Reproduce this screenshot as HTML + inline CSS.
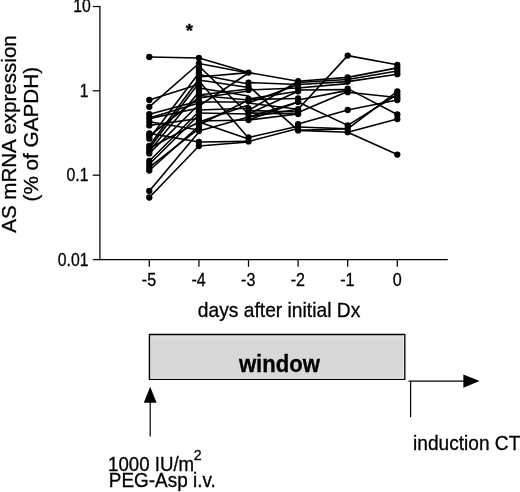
<!DOCTYPE html>
<html><head><meta charset="utf-8"><title>AS mRNA expression</title>
<style>
html,body{margin:0;padding:0;background:#fff}
svg{display:block}
text{font-family:"Liberation Sans",Arial,Helvetica,sans-serif;fill:#000;stroke:#000;stroke-width:0.3px}
</style></head><body>
<svg width="520" height="492" viewBox="0 0 520 492">
<defs><linearGradient id="g" x1="0" y1="0" x2="0" y2="1"><stop offset="0" stop-color="#e0e0e0"/><stop offset="0.15" stop-color="#d7d7d7"/><stop offset="1" stop-color="#d9d9d9"/></linearGradient></defs>
<rect width="520" height="492" fill="#fff"/>
<g stroke="#000" stroke-width="1.6" stroke-linecap="round"><line x1="149.3" y1="57" x2="198.9" y2="58"/><line x1="149.3" y1="100" x2="198.9" y2="84.3"/><line x1="149.3" y1="106.8" x2="198.9" y2="63.5"/><line x1="149.3" y1="114.2" x2="198.9" y2="101"/><line x1="149.3" y1="118" x2="198.9" y2="103"/><line x1="149.3" y1="118.6" x2="198.9" y2="108"/><line x1="149.3" y1="121.7" x2="198.9" y2="130"/><line x1="149.3" y1="125.4" x2="198.9" y2="118.5"/><line x1="149.3" y1="133.4" x2="198.9" y2="142"/><line x1="149.3" y1="136" x2="198.9" y2="97.5"/><line x1="149.3" y1="138.7" x2="198.9" y2="73"/><line x1="149.3" y1="145.8" x2="198.9" y2="79"/><line x1="149.3" y1="148.3" x2="198.9" y2="83"/><line x1="149.3" y1="150.9" x2="198.9" y2="92"/><line x1="149.3" y1="153.4" x2="198.9" y2="104.5"/><line x1="149.3" y1="148.3" x2="198.9" y2="122"/><line x1="149.3" y1="161" x2="198.9" y2="111.5"/><line x1="149.3" y1="164.2" x2="198.9" y2="115"/><line x1="149.3" y1="167.4" x2="198.9" y2="128.5"/><line x1="149.3" y1="170.5" x2="198.9" y2="126"/><line x1="149.3" y1="191" x2="198.9" y2="132"/><line x1="149.3" y1="197.5" x2="198.9" y2="146"/><line x1="198.9" y1="58" x2="248.5" y2="72.6"/><line x1="198.9" y1="63.5" x2="248.5" y2="73"/><line x1="198.9" y1="66" x2="248.5" y2="114"/><line x1="198.9" y1="77" x2="248.5" y2="72.6"/><line x1="198.9" y1="74.5" x2="248.5" y2="84"/><line x1="198.9" y1="80" x2="248.5" y2="87.5"/><line x1="198.9" y1="106" x2="248.5" y2="73"/><line x1="198.9" y1="95" x2="248.5" y2="89"/><line x1="198.9" y1="98" x2="248.5" y2="91"/><line x1="198.9" y1="81" x2="248.5" y2="138"/><line x1="198.9" y1="95.5" x2="248.5" y2="100"/><line x1="198.9" y1="122" x2="248.5" y2="139"/><line x1="198.9" y1="142" x2="248.5" y2="141.4"/><line x1="198.9" y1="146" x2="248.5" y2="142"/><line x1="198.9" y1="125" x2="248.5" y2="100"/><line x1="198.9" y1="122" x2="248.5" y2="105"/><line x1="198.9" y1="121" x2="248.5" y2="120"/><line x1="198.9" y1="110" x2="248.5" y2="108.3"/><line x1="198.9" y1="113" x2="248.5" y2="114"/><line x1="198.9" y1="131" x2="248.5" y2="117"/><line x1="198.9" y1="88" x2="248.5" y2="96"/><line x1="198.9" y1="102" x2="248.5" y2="102"/><line x1="248.5" y1="72.6" x2="298.1" y2="81.2"/><line x1="248.5" y1="82.6" x2="298.1" y2="84.5"/><line x1="248.5" y1="89.9" x2="298.1" y2="88"/><line x1="248.5" y1="86" x2="298.1" y2="130.4"/><line x1="248.5" y1="110.5" x2="298.1" y2="81.2"/><line x1="248.5" y1="103" x2="298.1" y2="84.5"/><line x1="248.5" y1="99" x2="298.1" y2="91.3"/><line x1="248.5" y1="114" x2="298.1" y2="91.3"/><line x1="248.5" y1="117" x2="298.1" y2="102"/><line x1="248.5" y1="120" x2="298.1" y2="102"/><line x1="248.5" y1="117" x2="298.1" y2="109.2"/><line x1="248.5" y1="110.5" x2="298.1" y2="112"/><line x1="248.5" y1="99.5" x2="298.1" y2="98.5"/><line x1="248.5" y1="137.5" x2="298.1" y2="126.3"/><line x1="248.5" y1="141.4" x2="298.1" y2="128.6"/><line x1="248.5" y1="103" x2="298.1" y2="109.2"/><line x1="248.5" y1="113" x2="298.1" y2="114"/><line x1="248.5" y1="120" x2="298.1" y2="114"/><line x1="298.1" y1="109.2" x2="347.7" y2="55.6"/><line x1="298.1" y1="81.2" x2="347.7" y2="77.4"/><line x1="298.1" y1="82.5" x2="347.7" y2="79.5"/><line x1="298.1" y1="84.5" x2="347.7" y2="81.6"/><line x1="298.1" y1="88" x2="347.7" y2="83.6"/><line x1="298.1" y1="90" x2="347.7" y2="89.6"/><line x1="298.1" y1="100" x2="347.7" y2="90.4"/><line x1="298.1" y1="112.5" x2="347.7" y2="91.5"/><line x1="298.1" y1="102" x2="347.7" y2="125.4"/><line x1="298.1" y1="124.1" x2="347.7" y2="110"/><line x1="298.1" y1="127" x2="347.7" y2="128.8"/><line x1="298.1" y1="130.4" x2="347.7" y2="128.8"/><line x1="298.1" y1="130.4" x2="347.7" y2="132.2"/><line x1="347.7" y1="55.6" x2="397.3" y2="64.8"/><line x1="347.7" y1="77.4" x2="397.3" y2="67.9"/><line x1="347.7" y1="79.5" x2="397.3" y2="71"/><line x1="347.7" y1="81.6" x2="397.3" y2="74.2"/><line x1="347.7" y1="92.2" x2="397.3" y2="97.5"/><line x1="347.7" y1="88.6" x2="397.3" y2="114.5"/><line x1="347.7" y1="128.8" x2="397.3" y2="91.3"/><line x1="347.7" y1="125.4" x2="397.3" y2="94.5"/><line x1="347.7" y1="110" x2="397.3" y2="100"/><line x1="347.7" y1="132.2" x2="397.3" y2="119"/><line x1="347.7" y1="132.2" x2="397.3" y2="154.6"/></g>
<g fill="#000"><circle cx="149.3" cy="57" r="3.15"/><circle cx="149.3" cy="100" r="3.15"/><circle cx="149.3" cy="106.8" r="3.15"/><circle cx="149.3" cy="114.2" r="3.15"/><circle cx="149.3" cy="118" r="3.15"/><circle cx="149.3" cy="121.7" r="3.15"/><circle cx="149.3" cy="125.4" r="3.15"/><circle cx="149.3" cy="133.4" r="3.15"/><circle cx="149.3" cy="136" r="3.15"/><circle cx="149.3" cy="138.7" r="3.15"/><circle cx="149.3" cy="145.8" r="3.15"/><circle cx="149.3" cy="148.3" r="3.15"/><circle cx="149.3" cy="150.9" r="3.15"/><circle cx="149.3" cy="153.4" r="3.15"/><circle cx="149.3" cy="161" r="3.15"/><circle cx="149.3" cy="164.2" r="3.15"/><circle cx="149.3" cy="167.4" r="3.15"/><circle cx="149.3" cy="170.5" r="3.15"/><circle cx="149.3" cy="191" r="3.15"/><circle cx="149.3" cy="197.5" r="3.15"/><circle cx="198.9" cy="58" r="3.15"/><circle cx="198.9" cy="63.5" r="3.15"/><circle cx="198.9" cy="67" r="3.15"/><circle cx="198.9" cy="70" r="3.15"/><circle cx="198.9" cy="73" r="3.15"/><circle cx="198.9" cy="76.5" r="3.15"/><circle cx="198.9" cy="80" r="3.15"/><circle cx="198.9" cy="83.5" r="3.15"/><circle cx="198.9" cy="87" r="3.15"/><circle cx="198.9" cy="90.5" r="3.15"/><circle cx="198.9" cy="94" r="3.15"/><circle cx="198.9" cy="97.5" r="3.15"/><circle cx="198.9" cy="101" r="3.15"/><circle cx="198.9" cy="104.5" r="3.15"/><circle cx="198.9" cy="108" r="3.15"/><circle cx="198.9" cy="111.5" r="3.15"/><circle cx="198.9" cy="115" r="3.15"/><circle cx="198.9" cy="118.5" r="3.15"/><circle cx="198.9" cy="122" r="3.15"/><circle cx="198.9" cy="125.5" r="3.15"/><circle cx="198.9" cy="128.5" r="3.15"/><circle cx="198.9" cy="131" r="3.15"/><circle cx="198.9" cy="142" r="3.15"/><circle cx="198.9" cy="146" r="3.15"/><circle cx="248.5" cy="72.6" r="3.15"/><circle cx="248.5" cy="82.6" r="3.15"/><circle cx="248.5" cy="86.3" r="3.15"/><circle cx="248.5" cy="89.9" r="3.15"/><circle cx="248.5" cy="99" r="3.15"/><circle cx="248.5" cy="101.2" r="3.15"/><circle cx="248.5" cy="108.3" r="3.15"/><circle cx="248.5" cy="112.2" r="3.15"/><circle cx="248.5" cy="116.1" r="3.15"/><circle cx="248.5" cy="120" r="3.15"/><circle cx="248.5" cy="137.5" r="3.15"/><circle cx="248.5" cy="141.4" r="3.15"/><circle cx="298.1" cy="81.2" r="3.15"/><circle cx="298.1" cy="84.5" r="3.15"/><circle cx="298.1" cy="88" r="3.15"/><circle cx="298.1" cy="91.3" r="3.15"/><circle cx="298.1" cy="98.5" r="3.15"/><circle cx="298.1" cy="102" r="3.15"/><circle cx="298.1" cy="109.2" r="3.15"/><circle cx="298.1" cy="112" r="3.15"/><circle cx="298.1" cy="114" r="3.15"/><circle cx="298.1" cy="124.1" r="3.15"/><circle cx="298.1" cy="127" r="3.15"/><circle cx="298.1" cy="130.4" r="3.15"/><circle cx="347.7" cy="55.6" r="3.15"/><circle cx="347.7" cy="77.4" r="3.15"/><circle cx="347.7" cy="79.5" r="3.15"/><circle cx="347.7" cy="81.6" r="3.15"/><circle cx="347.7" cy="88.6" r="3.15"/><circle cx="347.7" cy="92.2" r="3.15"/><circle cx="347.7" cy="110" r="3.15"/><circle cx="347.7" cy="125.4" r="3.15"/><circle cx="347.7" cy="128.8" r="3.15"/><circle cx="347.7" cy="132.2" r="3.15"/><circle cx="397.3" cy="64.8" r="3.15"/><circle cx="397.3" cy="67.9" r="3.15"/><circle cx="397.3" cy="71" r="3.15"/><circle cx="397.3" cy="74.2" r="3.15"/><circle cx="397.3" cy="91.3" r="3.15"/><circle cx="397.3" cy="94.5" r="3.15"/><circle cx="397.3" cy="97.5" r="3.15"/><circle cx="397.3" cy="100" r="3.15"/><circle cx="397.3" cy="114.5" r="3.15"/><circle cx="397.3" cy="119" r="3.15"/><circle cx="397.3" cy="154.6" r="3.15"/></g>
<path d="M99.9 5.9V259.6H447.8" fill="none" stroke="#000" stroke-width="1.25"/><line x1="92.8" y1="6.5" x2="99.9" y2="6.5" stroke="#000" stroke-width="1.25"/><line x1="92.8" y1="90.8" x2="99.9" y2="90.8" stroke="#000" stroke-width="1.25"/><line x1="92.8" y1="175.2" x2="99.9" y2="175.2" stroke="#000" stroke-width="1.25"/><line x1="92.8" y1="259.6" x2="99.9" y2="259.6" stroke="#000" stroke-width="1.25"/><line x1="149.3" y1="259.6" x2="149.3" y2="266.8" stroke="#000" stroke-width="1.25"/><line x1="198.9" y1="259.6" x2="198.9" y2="266.8" stroke="#000" stroke-width="1.25"/><line x1="248.5" y1="259.6" x2="248.5" y2="266.8" stroke="#000" stroke-width="1.25"/><line x1="298.1" y1="259.6" x2="298.1" y2="266.8" stroke="#000" stroke-width="1.25"/><line x1="347.7" y1="259.6" x2="347.7" y2="266.8" stroke="#000" stroke-width="1.25"/><line x1="397.3" y1="259.6" x2="397.3" y2="266.8" stroke="#000" stroke-width="1.25"/>
<text transform="translate(90.7 12.1) scale(0.9 1)" font-size="17.5" text-anchor="end">10</text><text transform="translate(88.4 96.89999999999999) scale(0.9 1)" font-size="17.5" text-anchor="end">1</text><text transform="translate(88.4 181.29999999999998) scale(0.9 1)" font-size="17.5" text-anchor="end">0.1</text><text transform="translate(88.4 265.70000000000005) scale(0.9 1)" font-size="17.5" text-anchor="end">0.01</text><text transform="translate(149.0 285.6) scale(0.92 1)" font-size="17.5" text-anchor="middle">-5</text><text transform="translate(198.6 285.6) scale(0.92 1)" font-size="17.5" text-anchor="middle">-4</text><text transform="translate(248.2 285.6) scale(0.92 1)" font-size="17.5" text-anchor="middle">-3</text><text transform="translate(297.8 285.6) scale(0.92 1)" font-size="17.5" text-anchor="middle">-2</text><text transform="translate(347.4 285.6) scale(0.92 1)" font-size="17.5" text-anchor="middle">-1</text><text transform="translate(397.1 285.6) scale(0.92 1)" font-size="17.5" text-anchor="middle">0</text>
<text transform="translate(189.4 37.3) scale(1.0 1)" font-size="18.5" text-anchor="middle" font-weight="bold">*</text>
<text transform="translate(15.6 232.8) rotate(-90) scale(1.003 1)" font-size="20.5">AS mRNA expression</text>
<text transform="translate(38 201.5) rotate(-90) scale(1.01 1)" font-size="20.5">(% of GAPDH)</text>
<text transform="translate(197.8 316.5) scale(0.948 1)" font-size="20.3" text-anchor="start">days after initial Dx</text>
<rect x="149.4" y="334.5" width="255.4" height="44.9" fill="url(#g)" stroke="#000" stroke-width="1.4" stroke-linejoin="round"/><path d="M150.2 378.2H403.6V335.4" fill="none" stroke="#ececec" stroke-width="0.9"/>
<text transform="translate(238.9 371.5) scale(0.956 1)" font-size="23.1" text-anchor="start" font-weight="bold">window</text>
<path d="M150.2 436.5V400" stroke="#000" stroke-width="1.2" fill="none"/>
<path d="M150.2 386.7L156.6 402.7H143.8Z" fill="#000"/>
<path d="M408.5 381.1H465M410.6 381.1V417.2" stroke="#000" stroke-width="1.2" fill="none"/>
<path d="M479.6 381.1L463.4 374.5V387.7Z" fill="#000"/>
<text transform="translate(413 449.5) scale(0.942 1)" font-size="20.3" text-anchor="start">induction CT</text>
<text transform="translate(108 470.5) scale(0.934 1)" font-size="20" text-anchor="start">1000 IU/m<tspan dy="-10.4" dx="-0.5" font-size="15.2">2</tspan></text>
<text transform="translate(108.8 487) scale(0.947 1)" font-size="20" text-anchor="start">PEG-Asp i.v.</text>
</svg>
</body></html>
